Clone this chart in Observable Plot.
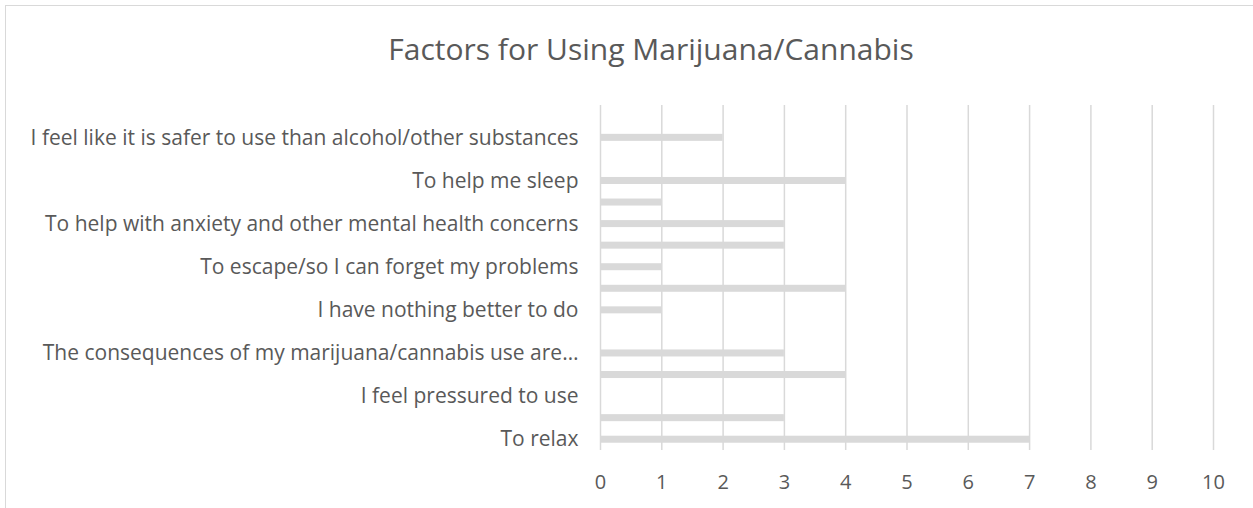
<!DOCTYPE html>
<html>
<head>
<meta charset="utf-8">
<script src="https://cdn.jsdelivr.net/npm/d3@7"></script>
<script src="https://cdn.jsdelivr.net/npm/@observablehq/plot@0.6"></script>
<style>
  html, body { margin: 0; padding: 0; background: #fff; }
  #wrap { position: relative; width: 1253px; height: 508px; overflow: hidden; font-family: "Open Sans", sans-serif; }
  #border { position: absolute; left: 5px; top: 5px; width: 1300px; height: 600px; border-left: 1.5px solid #d9d9d9; border-top: 1.5px solid #d9d9d9; pointer-events: none; }
  #title { position: absolute; left: 0; width: 1302px; top: 28px; text-align: center; font-size: 30px; line-height: 42px; color: #595959; }
  #chart { position: absolute; left: 0; top: 0; }
</style>
</head>
<body>
<div id="wrap">
  <div id="border"></div>
  <div id="chart"></div>
  <div id="title">Factors for Using Marijuana/Cannabis</div>
</div>
<script>
// Categories listed from bottom to top (Excel order); null = label not shown on axis
const labels = [
  "To relax",
  null,
  "I feel pressured to use",
  null,
  "The consequences of my marijuana/cannabis use are…",
  null,
  "I have nothing better to do",
  null,
  "To escape/so I can forget my problems",
  null,
  "To help with anxiety and other mental health concerns",
  null,
  "To help me sleep",
  null,
  "I feel like it is safer to use than alcohol/other substances",
  null
];
const values = [7, 3, 0, 4, 3, 0, 1, 4, 1, 3, 3, 1, 4, 0, 2, 0];
const xTicks = [0, 1, 2, 3, 4, 5, 6, 7, 8, 9, 10];

const data = values.map((v, i) => ({idx: i, value: v}));

const chart = Plot.plot({
  width: 1253,
  height: 508,
  marginLeft: 600,
  marginRight: 40,
  marginTop: 105,
  marginBottom: 58,
  style: {fontFamily: "'Open Sans', sans-serif", fontSize: "20px", color: "#595959", background: "transparent"},
  x: {domain: [0, 10], ticks: xTicks, label: null},
  y: {type: "band", domain: d3.range(labels.length - 1, -1, -1), paddingInner: 0.675, paddingOuter: 0.3375, round: false, label: null},
  marks: [
    Plot.gridX(xTicks, {stroke: "#d9d9d9", strokeOpacity: 1, strokeWidth: 1.5}),
    Plot.barX(data, {x: "value", y: "idx", fill: "#d9d9d9"}),
    Plot.axisX({ticks: xTicks, tickSize: 0, tickPadding: 24, label: null, fontSize: 20}),
    Plot.axisY({tickSize: 0, tickPadding: 22, label: null, fontSize: 21, tickFormat: i => labels[i] ?? ""})
  ]
});
document.getElementById("chart").appendChild(chart);
</script>
</body>
</html>
